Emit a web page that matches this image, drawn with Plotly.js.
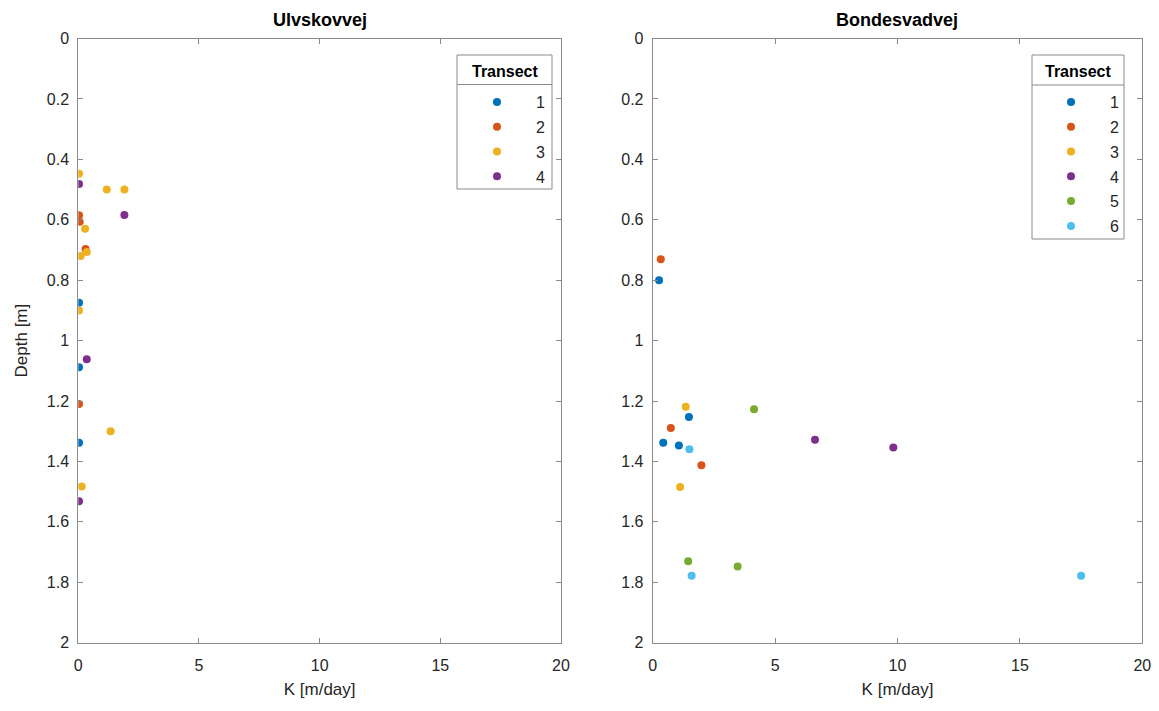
<!DOCTYPE html>
<html>
<head>
<meta charset="utf-8">
<script src="https://cdn.plot.ly/plotly-3.0.1.min.js"></script>
<style>html,body{margin:0;padding:0;background:#fff;}#chart{width:1159px;height:711px;}</style>
</head>
<body>
<div id="chart"></div>
<script>
// Ulvskovvej (left panel)
const ulvT1K = [0.03, 0.03, 0.03];
const ulvT1D = [0.875, 1.088, 1.338];
const ulvT2K = [0.03, 0.06, 0.30, 0.03];
const ulvT2D = [0.585, 0.607, 0.697, 1.21];
const ulvT3K = [0.03, 1.18, 1.91, 0.28, 0.35, 0.10, 0.03, 1.34, 0.14];
const ulvT3D = [0.448, 0.50, 0.50, 0.63, 0.707, 0.72, 0.90, 1.30, 1.483];
const ulvT4K = [0.03, 1.91, 0.35, 0.03];
const ulvT4D = [0.482, 0.584, 1.062, 1.532];

// Bondesvadvej (right panel)
const bonT1K = [0.26, 1.48, 0.43, 1.07];
const bonT1D = [0.80, 1.253, 1.338, 1.347];
const bonT2K = [0.33, 0.74, 1.99];
const bonT2D = [0.731, 1.289, 1.413];
const bonT3K = [1.35, 1.12];
const bonT3D = [1.219, 1.485];
const bonT4K = [6.63, 9.83];
const bonT4D = [1.328, 1.354];
const bonT5K = [4.14, 1.45, 3.47];
const bonT5D = [1.227, 1.73, 1.748];
const bonT6K = [1.50, 1.59, 17.5];
const bonT6D = [1.36, 1.778, 1.778];

const transectNames = ["1", "2", "3", "4", "5", "6"];
const xTickVals = [0, 5, 10, 15, 20];
const yTickVals = [0, 0.2, 0.4, 0.6, 0.8, 1, 1.2, 1.4, 1.6, 1.8, 2];
const yTickText = ['0', '0.2', '0.4', '0.6', '0.8', '1', '1.2', '1.4', '1.6', '1.8', '2'];
const colors = ["#0072BD", "#D95319", "#EDB120", "#7E2F8E", "#77AC30", "#4DBEEE"];

const leftSeries = [[ulvT1K, ulvT1D], [ulvT2K, ulvT2D], [ulvT3K, ulvT3D], [ulvT4K, ulvT4D]];
const rightSeries = [[bonT1K, bonT1D], [bonT2K, bonT2D], [bonT3K, bonT3D], [bonT4K, bonT4D], [bonT5K, bonT5D], [bonT6K, bonT6D]];

const traces = [];
leftSeries.forEach((s, i) => {
  traces.push({x: s[0], y: s[1], type: 'scatter', mode: 'markers', name: transectNames[i],
    legendgroup: 'L' + i, marker: {color: colors[i], size: 8}, xaxis: 'x', yaxis: 'y', legend: 'legend'});
});
rightSeries.forEach((s, i) => {
  traces.push({x: s[0], y: s[1], type: 'scatter', mode: 'markers', name: transectNames[i],
    legendgroup: 'R' + i, marker: {color: colors[i], size: 8}, xaxis: 'x2', yaxis: 'y2', legend: 'legend2'});
});

const W = 1159, H = 711;
const px = v => v / W, py = v => 1 - v / H;
const FAM = 'Liberation Sans, Arial, sans-serif';
const font = {family: FAM, size: 16, color: '#262626'};
const lineCol = '#8a8a8a';

function xax(domain, anchor) {
  return {domain: domain, anchor: anchor, range: [0, 20], tickvals: xTickVals, ticks: 'inside', ticklen: 5,
    tickcolor: lineCol, showline: true, linecolor: lineCol, mirror: 'ticks', showgrid: false, zeroline: false,
    tickfont: font, ticklabelstandoff: 8, title: {text: 'K [m/day]', font: {family: FAM, size: 17, color: '#262626'}, standoff: 10}};
}
function yax(anchor, withTitle) {
  const a = {domain: [py(642.7), py(38.5)], range: [2, 0], tickvals: yTickVals, ticktext: yTickText,
    ticks: 'inside', ticklen: 5, tickcolor: lineCol, showline: true, linecolor: lineCol, mirror: 'ticks',
    showgrid: false, zeroline: false, tickfont: font, ticklabelstandoff: 5, anchor: anchor};
  if (withTitle) a.title = {text: 'Depth [m]', font: {family: FAM, size: 17, color: '#262626'}, standoff: 14};
  return a;
}

const legBase = {bgcolor: 'rgba(0,0,0,0)', borderwidth: 0, font: font,
  itemwidth: 68, xanchor: 'left', yanchor: 'top', tracegroupgap: 1};

// legend boxes (pixel positions of the frame)
function legendBox(x0, x1, y0, y1, ySep) {
  return [
    {type: 'rect', xref: 'paper', yref: 'paper', x0: px(x0), x1: px(x1), y0: py(y1), y1: py(y0),
     fillcolor: '#fff', line: {color: lineCol, width: 1}, layer: 'above'},
    {type: 'line', xref: 'paper', yref: 'paper', x0: px(x0), x1: px(x1), y0: py(ySep), y1: py(ySep),
     line: {color: lineCol, width: 1}, layer: 'above'}
  ];
}

const layout = {
  width: W, height: H, margin: {l: 0, r: 0, t: 0, b: 0},
  paper_bgcolor: '#fff', plot_bgcolor: '#fff', font: font,
  xaxis: xax([px(78.3), px(561)], 'y'),
  yaxis: yax('x', true),
  xaxis2: xax([px(652.7), px(1142.3)], 'y2'),
  yaxis2: yax('x2', false),
  legend: Object.assign({}, legBase, {x: px(458), y: py(85)}),
  legend2: Object.assign({}, legBase, {x: px(1032), y: py(85)}),
  shapes: legendBox(457, 552, 55, 189, 84.5).concat(legendBox(1032, 1124, 55, 239, 85)),
  annotations: [
    {text: '<b>Ulvskovvej</b>', xref: 'paper', yref: 'paper', x: px(320), y: py(20), showarrow: false,
     font: {family: FAM, size: 18, color: '#000'}, xanchor: 'center', yanchor: 'middle'},
    {text: '<b>Bondesvadvej</b>', xref: 'paper', yref: 'paper', x: px(897), y: py(20), showarrow: false,
     font: {family: FAM, size: 18, color: '#000'}, xanchor: 'center', yanchor: 'middle'},
    {text: '<b>Transect</b>', xref: 'paper', yref: 'paper', x: px(504.5), y: py(71), showarrow: false,
     font: {family: FAM, size: 16, color: '#000'}, xanchor: 'center', yanchor: 'middle'},
    {text: '<b>Transect</b>', xref: 'paper', yref: 'paper', x: px(1078), y: py(71), showarrow: false,
     font: {family: FAM, size: 16, color: '#000'}, xanchor: 'center', yanchor: 'middle'}
  ],
  showlegend: true
};

Plotly.newPlot('chart', traces, layout, {displayModeBar: false, staticPlot: true});
</script>
</body>
</html>
